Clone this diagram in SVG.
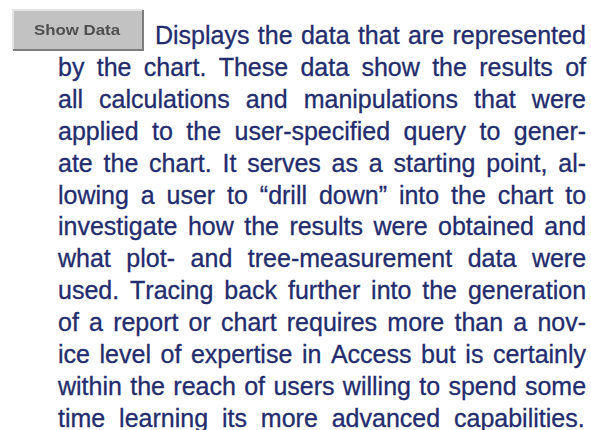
<svg xmlns="http://www.w3.org/2000/svg" width="591" height="430" viewBox="0 0 591 430">
  <style>
    .body { font-family: "Liberation Sans", Arial, sans-serif; font-size: 25px; fill: #232c6c; stroke: #232c6c; stroke-width: 0.3px; font-kerning: none; }
    .btn-label { font-family: "Liberation Sans", Arial, sans-serif; font-size: 15px; font-weight: bold; fill: #505050; font-kerning: none; }
  </style>
  <defs>
    <filter id="soft" x="-10%" y="-30%" width="120%" height="160%">
      <feGaussianBlur stdDeviation="0.55"/>
    </filter>
  </defs>
  <rect width="591" height="430" fill="#ffffff"/>

  <!-- toolbar button -->
  <g id="show-data-button">
    <rect x="13" y="10" width="130" height="40" fill="#c2c2c2"/>
    <path d="M13 50 V10 H143" fill="none" stroke="#e4e4e4" stroke-width="2"/>
    <path d="M143 10 V50 H13" fill="none" stroke="#7c7c7c" stroke-width="2"/>
    <text class="btn-label" x="77" y="35" text-anchor="middle" textLength="86" lengthAdjust="spacingAndGlyphs" filter="url(#soft)">Show Data</text>
  </g>

  <!-- justified description paragraph -->
  <g id="description">
    <text class="body" x="155" y="44" word-spacing="1.4">Displays the data that are represented</text>
    <text class="body" x="58" y="75.9" word-spacing="5.38">by the chart. These data show the results of</text>
    <text class="body" x="58" y="107.8" word-spacing="9.16">all calculations and manipulations that were</text>
    <text class="body" x="58" y="139.7" word-spacing="6.48">applied to the user-specified query to gener-</text>
    <text class="body" x="58" y="171.6" word-spacing="3.86">ate the chart. It serves as a starting point, al-</text>
    <text class="body" x="58" y="203.5" word-spacing="4.94">lowing a user to “drill down” into the chart to</text>
    <text class="body" x="58" y="235.4" word-spacing="3.47">investigate how the results were obtained and</text>
    <text class="body" x="58" y="267.3" word-spacing="8.62">what plot- and tree-measurement data were</text>
    <text class="body" x="58" y="299.2" word-spacing="3.93">used. Tracing back further into the generation</text>
    <text class="body" x="58" y="331.1" word-spacing="3.24">of a report or chart requires more than a nov-</text>
    <text class="body" x="58" y="363" word-spacing="2.61">ice level of expertise in Access but is certainly</text>
    <text class="body" x="58" y="394.9" word-spacing="1.39">within the reach of users willing to spend some</text>
    <text class="body" x="58" y="426.8" word-spacing="6.94">time learning its more advanced capabilities.</text>
  </g>
</svg>
